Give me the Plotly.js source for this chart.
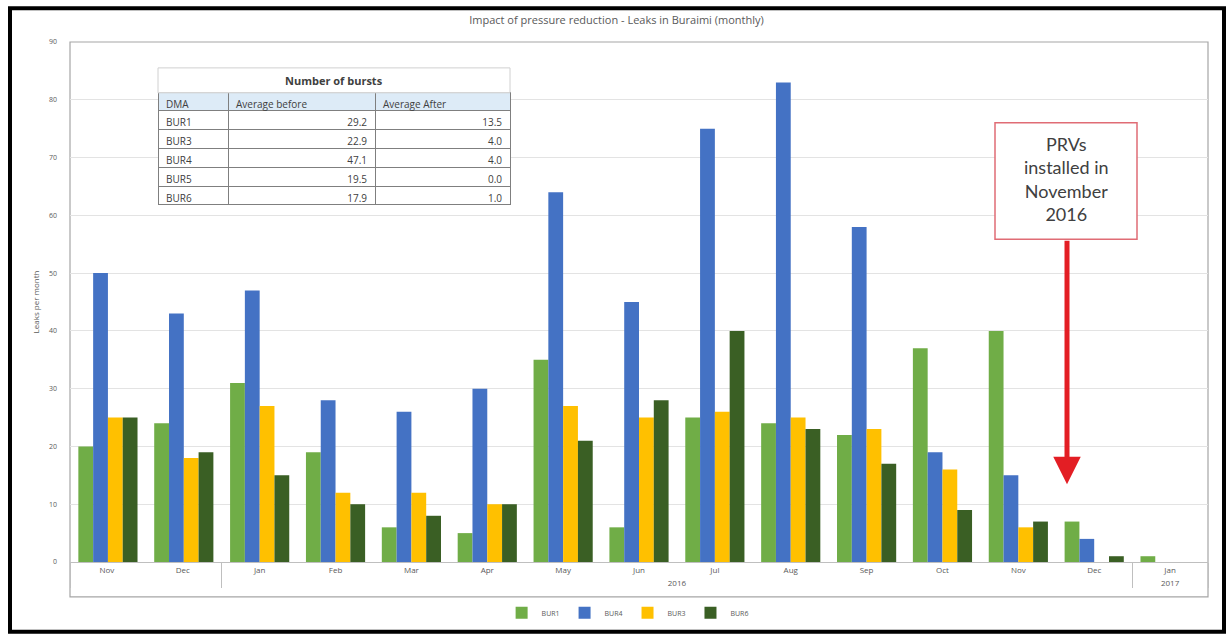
<!DOCTYPE html>
<html>
<head>
<meta charset="utf-8">
<script src="https://cdn.plot.ly/plotly-3.0.1.min.js"></script>
<style>html,body{margin:0;padding:0;background:#fff;}#chart{width:1228px;height:639px;}</style>
</head>
<body>
<div id="chart"></div>
<script>
const years  = [" ", " ", "2016","2016","2016","2016","2016","2016","2016","2016","2016","2016","2016","2016","2017"];
const months = ["Nov ","Dec ","Jan","Feb","Mar","Apr","May","Jun","Jul","Aug","Sep","Oct","Nov","Dec","Jan"];
const bur1 = [20, 24, 31, 19, 6, 5, 35, 6, 25, 24, 22, 37, 40, 7, 1];
const bur4 = [50, 43, 47, 28, 26, 30, 64, 45, 75, 83, 58, 19, 15, 4, 0];
const bur3 = [25, 18, 27, 12, 12, 10, 27, 25, 26, 25, 23, 16, 6, 0, 0];
const bur6 = [25, 19, 15, 10, 8, 10, 21, 28, 40, 23, 17, 9, 7, 1, 0];
const seriesNames = ["BUR1", "BUR4", "BUR3", "BUR6"];

const tableDMA    = ["BUR1", "BUR3", "BUR4", "BUR5", "BUR6"];
const tableBefore = ["29.2", "22.9", "47.1", "19.5", "17.9"];
const tableAfter  = ["13.5", "4.0", "4.0", "0.0", "1.0"];
const tableHeader = ["DMA", "Average before", "Average After"];
const tableTitle = "Number of bursts";
const noteText = "PRVs<br>installed in<br>November<br>2016";
const chartTitle = "Impact of pressure reduction - Leaks in Buraimi (monthly)";
const yTitle = "Leaks per month";

const colors = ["#70AD47", "#4472C4", "#FFC000", "#3A5F24"];
const vals = [bur1, bur4, bur3, bur6];

const W = 1228, H = 639, L = 70, R = 20, T = 42, B = 75;
const pw = W - L - R, ph = H - T - B;
const px = x => (x - L) / pw;
const py = y => (H - B - y) / ph;

const traces = vals.map((v, i) => ({
  type: "bar",
  name: seriesNames[i],
  x: [years, months],
  y: v,
  marker: {color: colors[i]},
  hoverinfo: "skip"
}));

traces.push({
  type: "table",
  domain: {x: [px(158), px(510)], y: [py(225), py(93)]},
  columnwidth: [70, 147, 135],
  header: {
    values: tableHeader,
    align: "left",
    height: 18,
    fill: {color: "#DDEBF7"},
    line: {color: "#7F7F7F", width: 1},
    font: {family: "Open Sans, Liberation Sans, sans-serif", size: 10, color: "#404040"}
  },
  cells: {
    values: [tableDMA, tableBefore, tableAfter],
    align: ["left", "right", "right"],
    height: 18.8,
    fill: {color: "#FFFFFF"},
    line: {color: "#7F7F7F", width: 1},
    font: {family: "Open Sans, Liberation Sans, sans-serif", size: 10, color: "#404040"}
  }
});

const layout = {
  width: W, height: H,
  margin: {l: L, r: R, t: T, b: B},
  paper_bgcolor: "#FFFFFF",
  plot_bgcolor: "#FFFFFF",
  font: {family: "Open Sans, Liberation Sans, sans-serif", color: "#595959"},
  title: {text: chartTitle, font: {size: 11, color: "#595959"}, x: 0.502, xanchor: "center", y: 1 - 20/H, yanchor: "middle", yref: "container"},
  barmode: "group",
  bargap: 0.22,
  bargroupgap: 0,
  showlegend: true,
  legend: {orientation: "h", x: 0.49, xanchor: "center", y: py(615), yanchor: "middle", font: {size: 7, color: "#595959"}, itemwidth: 30, traceorder: "normal"},
  xaxis: {
    type: "multicategory",
    showgrid: false,
    showline: true, linecolor: "#BFBFBF", linewidth: 1,
    ticks: "",
    tickfont: {size: 8, color: "#595959"},
    showdividers: true, dividercolor: "#BFBFBF", dividerwidth: 1,
    fixedrange: true
  },
  yaxis: {
    range: [0, 90],
    dtick: 10,
    showgrid: true, gridcolor: "#E3E3E3", gridwidth: 1,
    zeroline: false,
    showline: false,
    ticks: "",
    ticklabelstandoff: 12,
    tickfont: {size: 7, color: "#595959"},
    title: {text: yTitle, font: {size: 8, color: "#595959"}, standoff: 8},
    fixedrange: true
  },
  shapes: [
    {type: "rect", xref: "paper", yref: "paper", x0: px(10), x1: px(1224), y0: py(634), y1: py(8), line: {color: "#000000", width: 4}, layer: "below"},
    {type: "rect", xref: "paper", yref: "paper", x0: 0, x1: 1, y0: py(599), y1: 1, line: {color: "#A6A6A6", width: 1.2}, layer: "below"},
    {type: "rect", xref: "paper", yref: "paper", x0: px(158), x1: px(510), y0: py(93), y1: py(68), line: {color: "#D0D0D0", width: 1}, fillcolor: "#FFFFFF", layer: "above"},
    {type: "rect", xref: "paper", yref: "paper", x0: px(995), x1: px(1137), y0: py(240), y1: py(123), line: {color: "#E06C75", width: 1.5}, fillcolor: "#FFFFFF", layer: "above"}
  ],
  annotations: [
    {xref: "paper", yref: "paper", x: px(334), y: py(81), text: "<b>" + tableTitle + "</b>", showarrow: false, font: {size: 11, color: "#404040"}, xanchor: "center", yanchor: "middle"},
    {xref: "paper", yref: "paper", x: px(1066), y: py(180), text: noteText, showarrow: false, font: {family: "Lato, Open Sans, sans-serif", size: 18, color: "#404040"}, xanchor: "center", yanchor: "middle", align: "center"},
    {xref: "paper", yref: "paper", x: px(1067), y: py(486), ax: 0, ay: -(486 - 241), text: "", showarrow: true, arrowhead: 2, arrowsize: 1.1, arrowwidth: 5, arrowcolor: "#E31E24", standoff: 0, startstandoff: 0}
  ]
};

Plotly.newPlot("chart", traces, layout, {displayModeBar: false, staticPlot: true});
</script>
</body>
</html>
